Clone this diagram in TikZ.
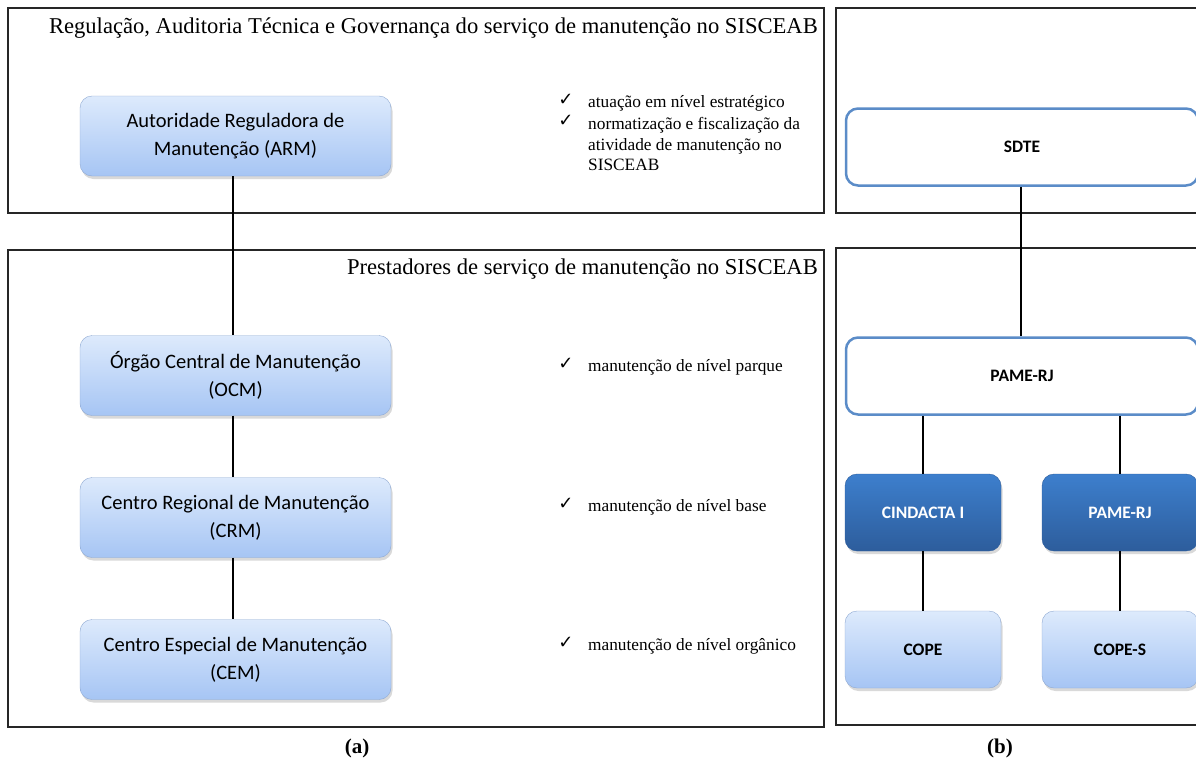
\documentclass[tikz,border=0pt]{standalone}
\usepackage{fontspec}
\setmainfont{Liberation Serif}
\newfontfamily\boxfont{Carlito}
\newfontfamily\symfont{DejaVu Sans}
\usetikzlibrary{positioning}
\usetikzlibrary{shadows}
\definecolor{mylighttop}{HTML}{DDEAFC}
\definecolor{mylightbot}{HTML}{A6C5F4}
\definecolor{mylightedge}{HTML}{8FA9D2}
\definecolor{mydarktop}{HTML}{3D7FCD}
\definecolor{mydarkbot}{HTML}{2D5D9C}
\definecolor{mywhiteedge}{HTML}{5B8CC8}
\tikzstyle{myframe}=[draw=black!85,line width=1.3pt]
\tikzstyle{mylink}=[black,line width=1.5pt]
\tikzstyle{mybox}=[draw=mylightedge,top color=mylighttop,bottom color=mylightbot,
                   rounded corners=12pt,minimum width=311pt,minimum height=80pt,
                   align=center,font=\boxfont\fontsize{20.5}{28}\selectfont,
                   drop shadow={opacity=0.3,shadow xshift=1.5pt,shadow yshift=-3pt}]
\tikzstyle{mysmallbox}=[mybox,minimum width=156pt,minimum height=77pt,
                   font=\boxfont\bfseries\fontsize{17.5}{20}\selectfont]
\tikzstyle{mydarkbox}=[mysmallbox,draw=mydarkbot,top color=mydarktop,bottom color=mydarkbot,text=white]
\tikzstyle{mywhitebox}=[draw=mywhiteedge,fill=white,line width=2.5pt,rounded corners=12pt,
                   minimum width=352pt,minimum height=77pt,
                   font=\boxfont\bfseries\fontsize{17.5}{20}\selectfont]
\tikzstyle{mytitle}=[anchor=base east,inner sep=0pt,font=\fontsize{22.6}{26}\selectfont]
\tikzstyle{mycomment}=[anchor=west,inner sep=0pt,align=left,font=\fontsize{17.3}{20.5}\selectfont]
\tikzstyle{mycheck}=[inner sep=0pt,font=\symfont\bfseries\fontsize{18}{18}\selectfont]
\tikzstyle{mycaption}=[inner sep=0pt,font=\bfseries\fontsize{21}{21}\selectfont]

\begin{document}
\begin{tikzpicture}[x=1pt,y=1pt]
  \def\h{142} % vertical space between rows
  \useasboundingbox (0,0) rectangle (1196,-763);

  % FRAMES
  \draw[myframe] (8,-8) rectangle (824,-213);
  \draw[myframe] (8,-250) rectangle (824,-727);
  \draw[myframe] (836,-8) rectangle (1215,-213);
  \draw[myframe] (836,-248) rectangle (1215,-725);

  % TITLES
  \node[mytitle] (t1) at (818,-33) {Regulação, Auditoria Técnica e Governança do serviço de manutenção no SISCEAB};
  \node[mytitle] (t2) at (818,-274) {Prestadores de serviço de manutenção no SISCEAB};

  % (a)
  \node[mybox] (arm) at (235.5,-136) {Autoridade Reguladora de\\Manutenção (ARM)};
  \node[mybox] (ocm) at (235.5,-375.5) {Órgão Central de Manutenção\\(OCM)};
  \path (ocm)++(0,-\h) node[mybox] (crm) {Centro Regional de Manutenção\\(CRM)};
  \path (crm)++(0,-\h) node[mybox] (cem) {Centro Especial de Manutenção\\(CEM)};
  \draw[mylink] (arm.south -| 233,0) -- (ocm.north -| 233,0);
  \draw[mylink] (ocm.south -| 233,0) -- (crm.north -| 233,0);
  \draw[mylink] (crm.south -| 233,0) -- (cem.north -| 233,0);

  % COMMENTS
  \node[mycheck] (c1) at (566,-100) {✓};
  \node[mycomment] (n1) at (588,-103) {atuação em nível estratégico};
  \node[mycheck] (c2) at (566,-121) {✓};
  \node[mycomment] (n2) at (588,-144) {normatização e fiscalização da\\atividade de manutenção no\\SISCEAB};
  \node[mycheck] (c3) at (566,-364) {✓};
  \node[mycomment] (n3) at (588,-367) {manutenção de nível parque};
  \node[mycheck] (c4) at (566,-504) {✓};
  \node[mycomment] (n4) at (588,-507) {manutenção de nível base};
  \node[mycheck] (c5) at (566,-643) {✓};
  \node[mycomment] (n5) at (588,-646) {manutenção de nível orgânico};

  % (b)
  \node[mywhitebox] (sdte) at (1022,-147) {SDTE};
  \node[mywhitebox] (pame) at (1022,-376) {PAME-RJ};
  \node[mydarkbox] (cindacta) at (923,-512.5) {CINDACTA I};
  \node[mydarkbox] (pame2) at (1120,-512.5) {PAME-RJ};
  \node[mysmallbox] (cope) at (923,-649.5) {COPE};
  \node[mysmallbox] (copes) at (1120,-649.5) {COPE-S};
  \draw[mylink] (sdte.south -| 1021,0) -- (pame.north -| 1021,0);
  \draw[mylink] (pame.south -| cindacta) -- (cindacta.north);
  \draw[mylink] (pame.south -| pame2) -- (pame2.north);
  \draw[mylink] (cindacta.south) -- (cope.north);
  \draw[mylink] (pame2.south) -- (copes.north);

  % CAPTIONS
  \node[mycaption] (capa) at (357,-748) {(a)};
  \node[mycaption] (capb) at (1000,-748) {(b)};
\end{tikzpicture}
\end{document}
